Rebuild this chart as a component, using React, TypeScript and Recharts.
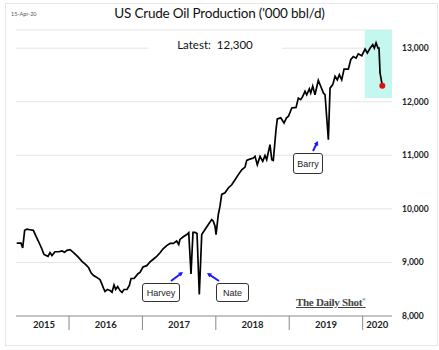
import { LineChart, Line, XAxis, YAxis, CartesianGrid, ReferenceArea } from "recharts";

// weekly dates as decimal years
const weeks = [
  2015.288, 2015.346, 2015.369, 2015.396, 2015.428, 2015.469, 2015.514, 2015.55, 2015.582, 2015.628,
  2015.659, 2015.714, 2015.741, 2015.768, 2015.809, 2015.86, 2015.905, 2015.939, 2015.973, 2016.014,
  2016.059, 2016.123, 2016.177, 2016.232, 2016.268, 2016.3, 2016.331, 2016.368, 2016.422, 2016.45,
  2016.477, 2016.49, 2016.522, 2016.559, 2016.586, 2016.613, 2016.636, 2016.663, 2016.695, 2016.722,
  2016.749, 2016.79, 2016.822, 2016.845, 2016.886, 2016.913, 2016.94, 2016.967, 2017.008, 2017.059,
  2017.104, 2017.144, 2017.195, 2017.24, 2017.285, 2017.331, 2017.376, 2017.421, 2017.467, 2017.495,
  2017.512, 2017.557, 2017.604, 2017.631, 2017.662, 2017.689, 2017.717, 2017.744, 2017.775, 2017.808,
  2017.853, 2017.898, 2017.944, 2017.966, 2017.989, 2018.003, 2018.034, 2018.057, 2018.08, 2018.125,
  2018.17, 2018.217, 2018.262, 2018.307, 2018.353, 2018.398, 2018.421, 2018.466, 2018.511, 2018.534,
  2018.565, 2018.602, 2018.639, 2018.67, 2018.693, 2018.738, 2018.762, 2018.783, 2018.82, 2018.838,
  2018.884, 2018.929, 2018.963, 2018.99, 2019.034, 2019.093, 2019.124, 2019.157, 2019.184, 2019.215,
  2019.238, 2019.274, 2019.293, 2019.32, 2019.351, 2019.396, 2019.429, 2019.465, 2019.488, 2019.533,
  2019.556, 2019.593, 2019.624, 2019.655, 2019.683, 2019.715, 2019.747, 2019.805, 2019.838, 2019.873,
  2019.91, 2019.941, 2019.988, 2020.033, 2020.064, 2020.101, 2020.138, 2020.159, 2020.183, 2020.21,
  2020.223, 2020.237, 2020.268,
];

// '000 bbl/d
const production = [
  9360, 9360, 9270, 9600, 9620, 9610, 9600, 9490, 9400, 9260,
  9150, 9115, 9185, 9130, 9200, 9200, 9215, 9190, 9225, 9240,
  9190, 9105, 9020, 8955, 8900, 8805, 8760, 8730, 8680, 8590,
  8495, 8460, 8495, 8475, 8445, 8580, 8495, 8550, 8475, 8440,
  8495, 8495, 8570, 8700, 8700, 8745, 8790, 8815, 8915, 8940,
  9010, 9055, 9115, 9180, 9260, 9315, 9355, 9355, 9400, 9335,
  9430, 9480, 9520, 9555, 8785, 9560, 9560, 9540, 8400, 9520,
  9615, 9710, 9800, 9770, 9675, 9520, 9895, 10050, 10270, 10300,
  10390, 10450, 10545, 10640, 10730, 10780, 10905, 10930, 10950, 10980,
  10825, 10980, 10890, 10995, 10920, 11200, 10920, 10905, 11480, 11680,
  11700, 11605, 11700, 11730, 11885, 11895, 12070, 12040, 12100, 12195,
  12130, 12240, 12165, 12290, 12130, 12400, 12290, 12165, 12130, 11290,
  12255, 12320, 12475, 12410, 12505, 12410, 12610, 12610, 12785, 12845,
  12815, 12895, 12860, 12985, 12910, 13000, 13065, 13000, 13100, 13000,
  13000, 12540, 12300,
];

const yTicks = [8000, 9000, 10000, 11000, 12000, 13000];
const years = ["2015", "2016", "2017", "2018", "2019", "2020"];
const yearBreaks = [2016, 2017, 2018, 2019, 2020];
const yearMids = [2015.66, 2016.5, 2017.5, 2018.5, 2019.5, 2020.2];

const data = weeks.map((t, i) => ({ t, v: production[i] }));
const last = data.length - 1;

function YearTick(props: any) {
  const { x, y, payload } = props;
  const k = yearMids.indexOf(payload.value);
  if (k >= 0) {
    return (
      <text x={x} y={y + 12} textAnchor="middle" fontSize={9.5} fontWeight={700} fill="#222" fontFamily="Lato">
        {years[k]}
      </text>
    );
  }
  return <line x1={x} x2={x} y1={y} y2={y + 14} stroke="#888" strokeWidth={1} />;
}

function Arrow({ x1, y1, x2, y2 }: { x1: number; y1: number; x2: number; y2: number }) {
  const a = Math.atan2(y2 - y1, x2 - x1);
  const h = 5;
  const p1 = [x2 - h * Math.cos(a - 0.5), y2 - h * Math.sin(a - 0.5)];
  const p2 = [x2 - h * Math.cos(a + 0.5), y2 - h * Math.sin(a + 0.5)];
  return (
    <g>
      <line x1={x1} y1={y1} x2={x2 - 2 * Math.cos(a)} y2={y2 - 2 * Math.sin(a)} stroke="#1a1aff" strokeWidth={2} />
      <polygon points={`${x2},${y2} ${p1[0]},${p1[1]} ${p2[0]},${p2[1]}`} fill="#1a1aff" />
    </g>
  );
}

const boxStyle = {
  position: "absolute" as const,
  background: "#fff",
  border: "1px solid #333",
  borderRadius: 3,
  fontFamily: "Liberation Sans, Arial, sans-serif",
  fontSize: 9,
  color: "#222",
  display: "flex",
  alignItems: "center",
  justifyContent: "center",
  boxSizing: "border-box" as const,
};

export default function App() {
  return (
    <div style={{ position: "absolute", left: 0, top: 0, width: 439, height: 350, background: "#fff" }}>
      <div style={{ position: "absolute", left: 5, top: 3, width: 431, height: 341, border: "1px solid #e6e6e6" }} />
      <LineChart width={439} height={350} data={data} margin={{ top: 30, right: 0, bottom: 14, left: 16 }}>
        <CartesianGrid vertical={false} stroke="#e4e4e4" />
        <ReferenceArea x1={2020.03} x2={2020.4} y1={12070} y2={13340} fill="#c4f7ef" fillOpacity={1} stroke="none" />
        <XAxis
          dataKey="t"
          type="number"
          domain={[2015.278, 2020.4]}
          ticks={[...yearMids, ...yearBreaks].sort((a, b) => a - b)}
          tick={<YearTick />}
          tickLine={false}
          tickSize={0}
          tickMargin={0}
          height={20}
          stroke="#999"
          interval={0}
        />
        <YAxis
          orientation="right"
          domain={[8000, 13340]}
          ticks={yTicks}
          width={47}
          axisLine={false}
          tickLine={false}
          tickSize={0}
          tickMargin={10}
          tickFormatter={(v: number) => v.toLocaleString("en-US")}
          tick={{ fontSize: 8.5, fontWeight: 700, fill: "#222", fontFamily: "Lato", textAnchor: "start" }}
        />
        <Line
          dataKey="v"
          type="linear"
          stroke="#000"
          strokeWidth={1.7}
          isAnimationActive={false}
          dot={(p: any) =>
            p.index === last ? (
              <circle key="end" cx={p.cx} cy={p.cy} r={3} fill="#e01010" stroke="none" />
            ) : (
              <g key={p.index} />
            )
          }
        />
      </LineChart>

      <div style={{ position: "absolute", left: 11, top: 11, fontSize: 5.5, color: "#555", fontFamily: "Lato" }}>15-Apr-20</div>
      <div
        style={{
          position: "absolute",
          left: 0,
          width: 439,
          top: 5,
          textAlign: "center",
          fontSize: 13.5,
          letterSpacing: -0.2,
          color: "#111",
          fontFamily: "Lato",
        }}
      >
        US Crude Oil Production ('000 bbl/d)
      </div>
      <div
        style={{
          position: "absolute",
          left: 148,
          width: 134,
          top: 37,
          height: 16,
          background: "#fff",
          textAlign: "center",
          fontSize: 11.5,
          color: "#111",
          fontFamily: "Lato",
          lineHeight: "16px",
          whiteSpace: "pre",
        }}
      >
        {"Latest:  12,300"}
      </div>
      <div
        style={{
          position: "absolute",
          left: 296,
          top: 296,
          fontSize: 11,
          fontWeight: 700,
          color: "#444",
          fontFamily: "Liberation Serif, serif",
          textDecoration: "underline",
          letterSpacing: -0.3,
        }}
      >
        The Daily Shot<sup style={{ fontSize: 5 }}>®</sup>
      </div>

      <div style={{ ...boxStyle, left: 142, top: 283, width: 38, height: 19 }}>Harvey</div>
      <div style={{ ...boxStyle, left: 216, top: 283, width: 33, height: 19 }}>Nate</div>
      <div style={{ ...boxStyle, left: 293, top: 153, width: 30, height: 21 }}>Barry</div>

      <svg width={439} height={350} style={{ position: "absolute", left: 0, top: 0, pointerEvents: "none" }}>
        <Arrow x1={171} y1={281} x2={183} y2={272} />
        <Arrow x1={219} y1={281} x2={207} y2={273} />
        <Arrow x1={313} y1={151} x2={318} y2={141} />
      </svg>
    </div>
  );
}
